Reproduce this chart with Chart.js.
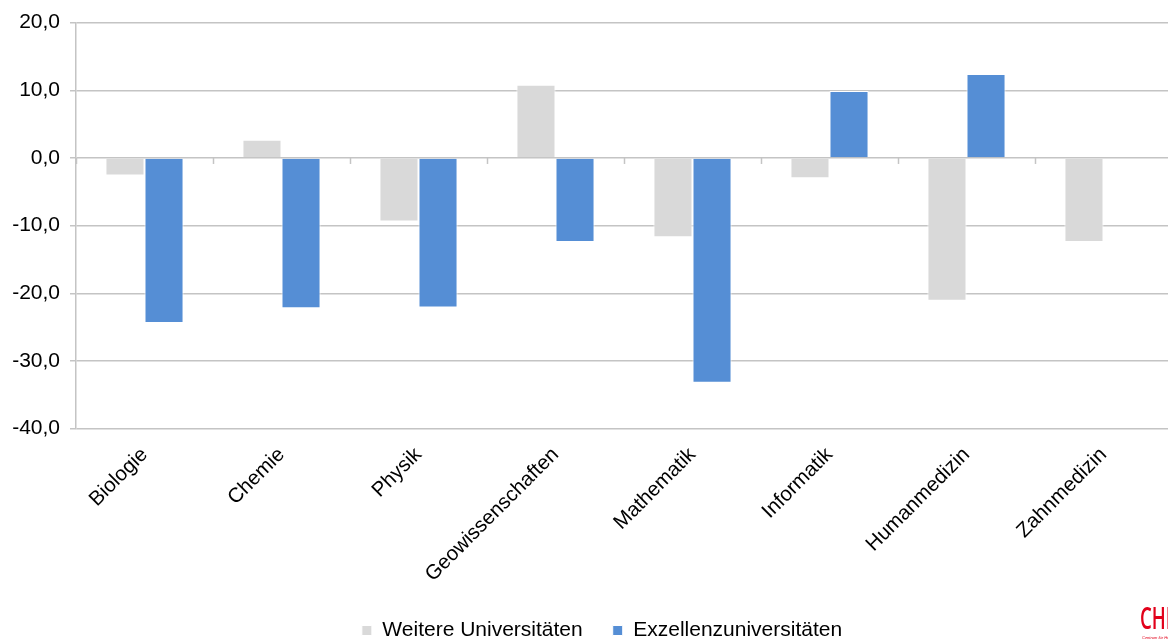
<!DOCTYPE html>
<html lang="de">
<head>
<meta charset="utf-8">
<title>Veränderung nach Fach</title>
<script src="https://cdn.jsdelivr.net/npm/chart.js@4.4.1/dist/chart.umd.min.js"></script>
<style>
  html, body { margin: 0; padding: 0; background: #fff; overflow: hidden; width: 1168px; height: 641px; }
  #wrap { position: relative; width: 1204px; height: 651px; }
  canvas { display: block; }
</style>
</head>
<body>
<div id="wrap"><canvas id="chart" width="1204" height="651"></canvas></div>
<script>
// Fächer und Werte
const categories = ['Biologie', 'Chemie', 'Physik', 'Geowissenschaften', 'Mathematik', 'Informatik', 'Humanmedizin', 'Zahnmedizin'];
const weitereUniversitaeten = [-2.6, 2.7, -9.4, 10.8, -11.7, -3.0, -21.1, -12.4];
const exzellenzUniversitaeten = [-24.4, -22.2, -22.1, -12.4, -33.2, 9.9, 12.4, null];
const seriesNames = ['Weitere Universitäten', 'Exzellenzuniversitäten'];
const yTickValues = [20, 10, 0, -10, -20, -30, -40];

const FONT = "'Liberation Sans', Arial, sans-serif";
const GRID = '#c4c4c4';

// kleine Markierungen an der Nulllinie zwischen den Fächern
const zeroLineTicks = {
  id: 'zeroLineTicks',
  beforeDatasetsDraw(chart) {
    const xs = chart.scales.x, ys = chart.scales.y, ctx = chart.ctx;
    const y0 = ys.getPixelForValue(0);
    ctx.save();
    ctx.strokeStyle = GRID;
    ctx.lineWidth = 1.5;
    for (let i = 0; i <= categories.length; i++) {
      const px = Math.round(xs.getPixelForValue(i - 0.5)) + 0.5;
      ctx.beginPath();
      ctx.moveTo(px, y0);
      ctx.lineTo(px, y0 + 6);
      ctx.stroke();
    }
    ctx.restore();
  }
};

// Logo unten rechts
const logo = {
  id: 'logo',
  afterDraw(chart) {
    const ctx = chart.ctx;
    ctx.save();
    ctx.fillStyle = '#e2001a';
    ctx.translate(1140, 629);
    ctx.scale(0.62, 1);
    ctx.font = "600 30px 'Open Sans', 'Liberation Sans', Arial, sans-serif";
    ctx.textBaseline = 'alphabetic';
    ctx.fillText('CHE', 0, 0);
    ctx.restore();
    ctx.save();
    ctx.fillStyle = '#e2001a';
    ctx.font = "italic 4px 'Liberation Sans', Arial, sans-serif";
    ctx.fillText('Centrum für Hochschulentwicklung', 1142, 638);
    ctx.restore();
  }
};

new Chart(document.getElementById('chart'), {
  type: 'bar',
  data: {
    labels: categories,
    datasets: [
      {
        label: seriesNames[0],
        data: weitereUniversitaeten,
        backgroundColor: '#d9d9d9',
        borderColor: '#ffffff',
        borderWidth: 1
      },
      {
        label: seriesNames[1],
        data: exzellenzUniversitaeten,
        backgroundColor: '#558ed5',
        borderColor: '#ffffff',
        borderWidth: 1
      }
    ]
  },
  options: {
    responsive: false,
    animation: false,
    devicePixelRatio: 1,
    layout: { padding: { top: 21, left: 0, right: 0, bottom: 0 } },
    datasets: { bar: { categoryPercentage: 0.57, barPercentage: 1.0 } },
    scales: {
      x: {
        offset: true,
        grid: { display: false, drawTicks: false },
        border: { display: false },
        ticks: {
          color: '#000',
          font: { family: FONT, size: 20.5 },
          minRotation: 45,
          maxRotation: 45,
          autoSkip: false,
          padding: 14
        },
        afterFit(s) { s.height = 161.3; }
      },
      y: {
        min: -40,
        max: 20,
        afterBuildTicks(s) { s.ticks = yTickValues.map(v => ({ value: v })); },
        grid: { color: GRID, lineWidth: 1.5, tickLength: 6, drawTicks: true },
        border: { display: true, color: GRID, width: 1.5 },
        ticks: {
          color: '#000',
          font: { family: FONT, size: 21 },
          padding: 10,
          callback: v => v.toFixed(1).replace('.', ',')
        },
        afterFit(s) { s.width = 76; }
      },
      yRight: {
        position: 'right',
        display: true,
        grid: { display: false, drawTicks: false },
        border: { display: false },
        ticks: { display: false },
        afterFit(s) { s.width = 32; }
      }
    },
    plugins: {
      legend: {
        position: 'bottom',
        labels: {
          color: '#000',
          font: { family: FONT, size: 21 },
          boxWidth: 10,
          boxHeight: 10,
          padding: 30
        }
      },
      tooltip: { enabled: false }
    }
  },
  plugins: [zeroLineTicks, logo]
});
</script>
</body>
</html>
